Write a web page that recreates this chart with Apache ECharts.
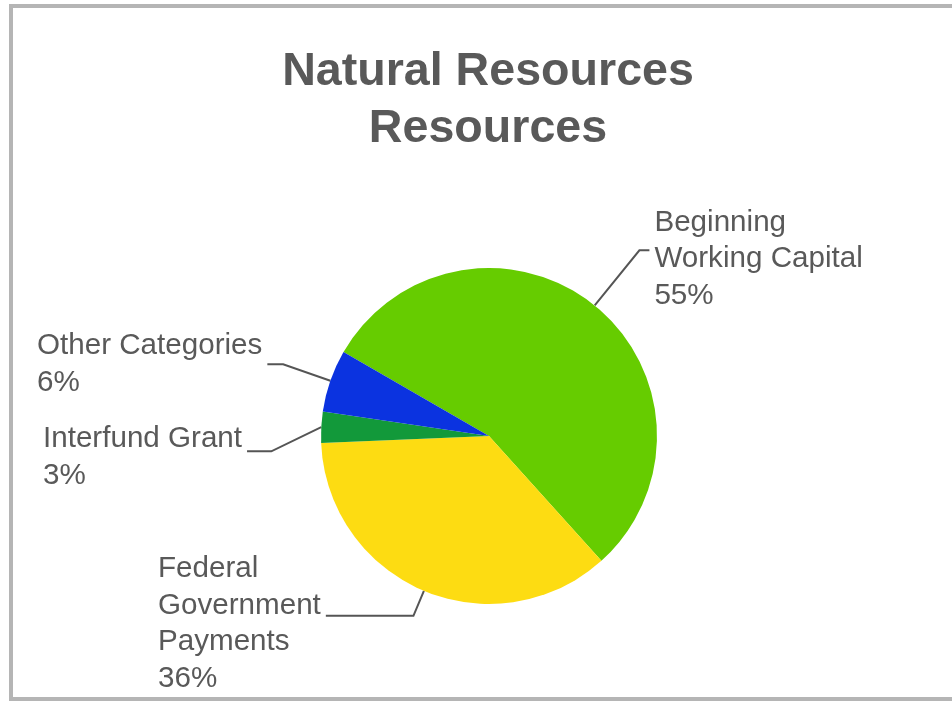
<!DOCTYPE html>
<html>
<head>
<meta charset="utf-8">
<title>Natural Resources</title>
<script src="https://cdn.jsdelivr.net/npm/echarts@6/dist/echarts.min.js"></script>
<style>
  html, body { margin: 0; padding: 0; background: #ffffff; }
  #chart { width: 952px; height: 705px; }
</style>
</head>
<body>
<div id="chart"></div>
<script>
// Resource categories, in clockwise order from the top-left of the pie
const categories = ['Beginning\nWorking Capital', 'Federal\nGovernment\nPayments', 'Interfund Grant', 'Other Categories'];
// Share of total resources, percent
const shares = [55, 36, 3, 6];
const sliceColors = ['#66cc00', '#fddc12', '#12993a', '#0b33e0'];

const textColor = '#595959';
const labelFont = 'Arial, "Liberation Sans", sans-serif';

// Per-slice label placement: the right-hand label flows from its leader line,
// left-hand labels are left-aligned at their own margin.
// "lift" adds an empty spacer row above the text, nudging it below the leader line.
const labelSetups = [
  { lift: 18, label: {}, labelLine: { length: 71, length2: 10 } },
  { lift: 16, label: { alignTo: 'edge', edgeDistance: 158 }, labelLine: { length: 27, length2: 5 } },
  { lift: 12, label: { alignTo: 'edge', edgeDistance: 43 }, labelLine: { length: 50, length2: 5 } },
  { lift: 0, label: { alignTo: 'edge', edgeDistance: 37, padding: [6, 0, 6, 0] }, labelLine: { length: 50, length2: 2 } }
];

function labelText(name, value, lift) {
  const body = name + '\n' + value + '%';
  return lift > 0 ? '{gap' + lift + '| }\n' + body : body;
}

const pieData = categories.map((name, i) => ({
  name: name,
  value: shares[i],
  itemStyle: { color: sliceColors[i] },
  label: Object.assign({
    formatter: labelText(name, shares[i], labelSetups[i].lift)
  }, labelSetups[i].label),
  labelLine: labelSetups[i].labelLine
}));

const spacerRows = {};
labelSetups.forEach((s) => {
  if (s.lift > 0) spacerRows['gap' + s.lift] = { fontSize: 1, lineHeight: s.lift };
});

const chart = echarts.init(document.getElementById('chart'), null, { renderer: 'canvas' });

chart.setOption({
  animation: false,
  backgroundColor: '#ffffff',
  title: {
    text: 'Natural Resources\nResources',
    left: 483,
    top: 39,
    textAlign: 'center',
    textStyle: {
      fontFamily: labelFont,
      fontSize: 46.6,
      fontWeight: 'bold',
      lineHeight: 57,
      color: textColor
    }
  },
  graphic: [{
    type: 'rect',
    silent: true,
    shape: { x: 11, y: 6, width: 980, height: 693 },
    style: { fill: 'none', stroke: '#b5b5b5', lineWidth: 4 }
  }],
  series: [{
    type: 'pie',
    center: [489, 436],
    radius: [0, 168],
    startAngle: 150,
    clockwise: true,
    avoidLabelOverlap: true,
    data: pieData,
    itemStyle: { borderWidth: 0 },
    label: {
      show: true,
      position: 'outside',
      fontFamily: labelFont,
      fontSize: 29.6,
      lineHeight: 36.5,
      color: textColor,
      distanceToLabelLine: 5,
      rich: spacerRows
    },
    labelLine: {
      show: true,
      smooth: false,
      lineStyle: { color: '#555555', width: 2 }
    },
    emphasis: { disabled: true }
  }]
});
</script>
</body>
</html>
